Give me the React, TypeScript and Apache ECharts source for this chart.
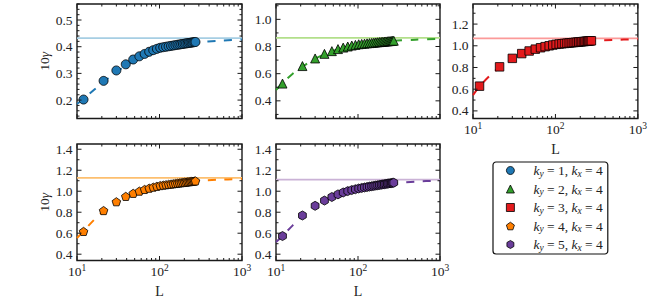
import React, { useEffect, useRef } from "react";
import * as echarts from "echarts";

const FONT = "'Liberation Serif', 'Times New Roman', serif";
const INK = "#222222";
const TICK = "#1a1a1a";

// System sizes L (x values of every marker)
const L = [12, 21, 30, 39, 48, 57, 66, 75, 84, 93, 102, 111, 120, 129, 138, 147, 156, 165, 174, 183, 192, 201, 210, 219, 228, 237, 246, 255, 264, 273];

// 10*gamma for each (ky, kx=4)
const gammaKy1 = [0.202, 0.272, 0.311, 0.334, 0.352, 0.364, 0.373, 0.381, 0.387, 0.392, 0.396, 0.3981, 0.3999, 0.4016, 0.4031, 0.4045, 0.4058, 0.4071, 0.4083, 0.4093, 0.4104, 0.4114, 0.4123, 0.4132, 0.414, 0.4148, 0.4156, 0.4163, 0.417, 0.4177];
const gammaKy2 = [0.527, 0.656, 0.712, 0.746, 0.766, 0.781, 0.792, 0.8, 0.807, 0.812, 0.8165, 0.819, 0.8212, 0.8232, 0.825, 0.8267, 0.8283, 0.8298, 0.8312, 0.8325, 0.8338, 0.835, 0.8361, 0.8372, 0.8382, 0.8392, 0.8401, 0.841, 0.8419, 0.8427];
const gammaKy3 = [0.628, 0.806, 0.884, 0.928, 0.952, 0.969, 0.982, 0.992, 1.0, 1.007, 1.013, 1.0162, 1.019, 1.0215, 1.0238, 1.0259, 1.0279, 1.0298, 1.0316, 1.0332, 1.0348, 1.0363, 1.0377, 1.0391, 1.0404, 1.0417, 1.0428, 1.0439, 1.045, 1.046];
const gammaKy4 = [0.617, 0.816, 0.9, 0.951, 0.98, 1.001, 1.017, 1.029, 1.039, 1.047, 1.054, 1.0582, 1.0619, 1.0653, 1.0683, 1.0712, 1.0739, 1.0764, 1.0788, 1.081, 1.0832, 1.0852, 1.0871, 1.0889, 1.0906, 1.0923, 1.0938, 1.0953, 1.0968, 1.0981];
const gammaKy5 = [0.573, 0.769, 0.861, 0.911, 0.945, 0.97, 0.988, 1.001, 1.011, 1.019, 1.026, 1.0313, 1.0359, 1.0401, 1.0439, 1.0475, 1.0509, 1.054, 1.0569, 1.0597, 1.0624, 1.0649, 1.0672, 1.0695, 1.0716, 1.0737, 1.0756, 1.0775, 1.0794, 1.0811];

// Dashed fit curves, read at these L values
const fitL = [10, 12, 16, 21, 30, 50, 100, 200, 300, 500, 1000];
const fitKy1 = [0.185, 0.205, 0.238, 0.268, 0.305, 0.35, 0.392, 0.411, 0.417, 0.422, 0.427];
const fitKy2 = [0.48, 0.53, 0.6, 0.652, 0.71, 0.768, 0.815, 0.836, 0.844, 0.85, 0.856];
const fitKy3 = [0.545, 0.625, 0.725, 0.8, 0.878, 0.955, 1.012, 1.038, 1.047, 1.054, 1.061];
const fitKy4 = [0.555, 0.62, 0.725, 0.81, 0.895, 0.985, 1.053, 1.088, 1.1, 1.109, 1.117];
const fitKy5 = [0.515, 0.575, 0.675, 0.765, 0.857, 0.95, 1.025, 1.064, 1.079, 1.092, 1.101];

// Horizontal asymptote of each panel
const asymptotes = [0.4325, 0.864, 1.068, 1.127, 1.11];

const kyValues = [1, 2, 3, 4, 5];
const kxValue = 4;

// Axis ranges and tick steps
const xRange = [10, 1000];
const xMajorTicks = [10, 100, 1000];
const xMinorTicks = [20, 30, 40, 50, 60, 70, 80, 90, 200, 300, 400, 500, 600, 700, 800, 900];
const yMins = [0.131, 0.27, 0.33, 0.34, 0.34];
const yMaxs = [0.56, 1.113, 1.385, 1.45, 1.45];
const yMajorSteps = [0.1, 0.2, 0.2, 0.2, 0.2];
const yMinorSteps = [0.02, 0.1, 0.1, 0.1, 0.1];

const gammaSets = [gammaKy1, gammaKy2, gammaKy3, gammaKy4, gammaKy5];
const fitSets = [fitKy1, fitKy2, fitKy3, fitKy4, fitKy5];

const darkColors = ["#1f78b4", "#33a02c", "#e31a1c", "#ff7f00", "#6a3d9a"];
const lightColors = ["#a6cee3", "#b2df8a", "#fb9a99", "#fdbf6f", "#cab2d6"];

const PENTAGON = "path://M0,-1 L0.951,-0.309 L0.588,0.809 L-0.588,0.809 L-0.951,-0.309 Z";
const HEXAGON = "path://M0,-1 L0.866,-0.5 L0.866,0.5 L0,1 L-0.866,0.5 L-0.866,-0.5 Z";
const symbols = ["circle", "triangle", "rect", PENTAGON, HEXAGON];
const symbolSizes: any[] = [9, 9, 8.5, [8.6, 8.2], [7.8, 9]];
const legendIconSizes = [8, 8, 8, 8, 8];

const layout = [
  { left: 77, top: 4, width: 165, height: 114.5, xLabels: false, yName: true },
  { left: 276, top: 4, width: 164, height: 114.5, xLabels: false, yName: false },
  { left: 473, top: 4, width: 165, height: 114.5, xLabels: true, yName: false },
  { left: 77, top: 144, width: 165, height: 116.5, xLabels: true, yName: true },
  { left: 276, top: 144, width: 164, height: 116.5, xLabels: true, yName: false },
];

const seriesNames = kyValues.map((k) => `k_y = ${k}, k_x = ${kxValue}`);

function stepTicks(min: number, max: number, step: number) {
  const out: number[] = [];
  const k0 = Math.ceil(min / step - 1e-9);
  const k1 = Math.floor(max / step + 1e-9);
  for (let k = k0; k <= k1; k++) out.push(+(k * step).toFixed(6));
  return out;
}
const isMultiple = (v: number, step: number) => Math.abs(v / step - Math.round(v / step)) < 1e-6;

function buildOption() {
  const grid: any[] = [];
  const xAxis: any[] = [];
  const yAxis: any[] = [];
  const series: any[] = [];

  layout.forEach((p, i) => {
    grid.push({
      left: p.left, top: p.top, width: p.width, height: p.height,
      show: true, borderColor: TICK, borderWidth: 1.4, backgroundColor: "#fff",
    });
    xAxis.push({
      type: "log", logBase: 10, gridIndex: i, min: xRange[0], max: xRange[1], splitNumber: 2,
      axisLine: { show: false }, axisTick: { show: false }, splitLine: { show: false },
      axisLabel: {
        show: p.xLabels, margin: 2, showMinLabel: true, showMaxLabel: true,
        formatter: (v: number) => `{b|10}{s|${Math.round(Math.log10(v))}}`,
        rich: {
          b: { fontFamily: FONT, fontSize: 13.5, color: INK },
          s: { fontFamily: FONT, fontSize: 9.5, color: INK, padding: [0, 0, 8, 0] },
        },
      },
      name: p.xLabels ? "L" : "",
      nameLocation: "middle", nameGap: 24,
      nameTextStyle: { fontFamily: FONT, fontSize: 14, color: INK },
    });
    const major = yMajorSteps[i];
    yAxis.push({
      type: "value", gridIndex: i, min: yMins[i], max: yMaxs[i], splitNumber: 5,
      minInterval: major, maxInterval: major,
      axisLine: { show: false }, axisTick: { show: false }, splitLine: { show: false },
      axisLabel: {
        margin: 4.5, fontFamily: FONT, fontSize: 13.5, color: INK,
        formatter: (v: number) => (isMultiple(v, major) ? v.toFixed(1) : ""),
      },
      name: p.yName ? "{n|10}{g|γ}" : "",
      nameLocation: "middle", nameRotate: 90, nameGap: 26,
      nameTextStyle: {
        rich: {
          n: { fontFamily: FONT, fontSize: 13.5, color: INK },
          g: { fontFamily: FONT, fontSize: 13.5, color: INK, fontStyle: "italic" },
        },
      },
    });

    // asymptote
    series.push({
      type: "line", xAxisIndex: i, yAxisIndex: i, z: 2, silent: true,
      data: [[xRange[0], asymptotes[i]], [xRange[1], asymptotes[i]]],
      symbol: "none", lineStyle: { color: lightColors[i], width: 1.8 },
    });
    // dashed fit
    series.push({
      type: "line", xAxisIndex: i, yAxisIndex: i, z: 3, silent: true,
      data: fitL.map((l, j) => [l, fitSets[i][j]]),
      symbol: "none", smooth: 0.3,
      lineStyle: { color: darkColors[i], width: 2, type: [8, 8.5] },
    });
    // markers
    series.push({
      name: seriesNames[i],
      type: "scatter", xAxisIndex: i, yAxisIndex: i, z: 4,
      data: L.map((l, j) => [l, gammaSets[i][j]]),
      symbol: symbols[i], symbolSize: symbolSizes[i], symbolKeepAspect: false,
      itemStyle: { color: darkColors[i], borderColor: "#000", borderWidth: 0.8, opacity: 1 },
    });
    // ticks on all four sides (inside)
    const yTicks = stepTicks(yMins[i], yMaxs[i], yMinorSteps[i]);
    const asym = asymptotes[i];
    series.push({
      type: "custom", xAxisIndex: i, yAxisIndex: i, z: 5, silent: true,
      data: [[100, asym]],
      renderItem: (params: any, api: any) => {
        const cs = params.coordSys;
        const x0 = cs.x, x1 = cs.x + cs.width, y0 = cs.y, y1 = cs.y + cs.height;
        const ch: any[] = [];
        const seg = (a: number, b: number, c: number, d: number) =>
          ch.push({ type: "line", shape: { x1: a, y1: b, x2: c, y2: d }, style: { stroke: TICK, lineWidth: 1 } });
        xMajorTicks.forEach((v) => {
          const px = api.coord([v, asym])[0];
          seg(px, y1, px, y1 - 4.5);
          seg(px, y0, px, y0 + 4.5);
        });
        xMinorTicks.forEach((v) => {
          const px = api.coord([v, asym])[0];
          seg(px, y1, px, y1 - 2.5);
          seg(px, y0, px, y0 + 2.5);
        });
        yTicks.forEach((v) => {
          const py = api.coord([100, v])[1];
          const len = isMultiple(v, major) ? 4.5 : 2.5;
          seg(x0, py, x0 + len, py);
          seg(x1, py, x1 - len, py);
        });
        return { type: "group", children: ch };
      },
    });
  });

  return {
    animation: false,
    backgroundColor: "#fff",
    textStyle: { fontFamily: FONT },
    grid, xAxis, yAxis, series,
    legend: {
      orient: "vertical", left: 493, top: 162,
      data: seriesNames.map((n, i) => ({ name: n, icon: symbols[i] })),
      itemWidth: legendIconSizes[0], itemHeight: legendIconSizes[0], itemGap: 3.5,
      padding: [1.5, 5, 1.5, 13],
      borderColor: "#111", borderWidth: 1.2, borderRadius: 3, backgroundColor: "#fff",
      selectedMode: false,
      itemStyle: { borderColor: "#000", borderWidth: 0.8 },
      formatter: (name: string) => {
        const idx = seriesNames.indexOf(name);
        return `{i|k}{s|y}{n| = ${kyValues[idx]}, }{i|k}{s|x}{n| = ${kxValue}}`;
      },
      textStyle: {
        fontFamily: FONT, fontSize: 13.5, color: INK, padding: [0, 0, 0, 14],
        rich: {
          i: { fontFamily: FONT, fontSize: 13.5, color: INK, fontStyle: "italic" },
          n: { fontFamily: FONT, fontSize: 13.5, color: INK },
          s: { fontFamily: FONT, fontSize: 9.5, color: INK, fontStyle: "italic", padding: [6, 0, 0, 0] },
        },
      },
    },
  };
}

export default function App() {
  const ref = useRef<HTMLDivElement>(null);
  useEffect(() => {
    if (!ref.current) return;
    const chart = echarts.init(ref.current, undefined, { renderer: "svg" });
    chart.setOption(buildOption() as any);
    return () => chart.dispose();
  }, []);
  return (
    <div
      ref={ref}
      style={{ position: "absolute", left: 0, top: 0, width: 650, height: 300, background: "#fff" }}
    />
  );
}
